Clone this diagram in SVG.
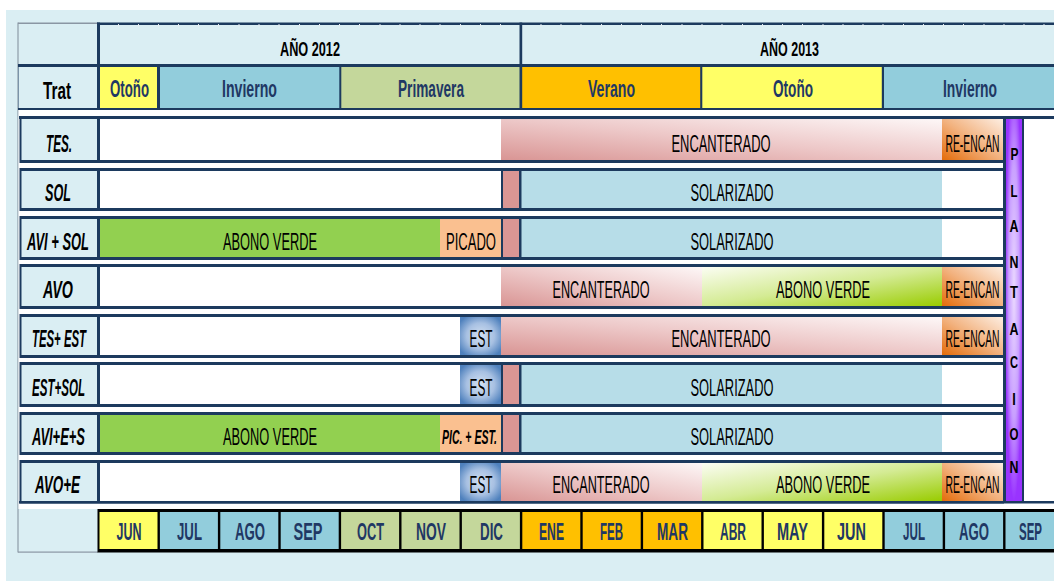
<svg xmlns="http://www.w3.org/2000/svg" width="1054" height="581" viewBox="0 0 1054 581">
<defs>
<style>
text{font-family:"Liberation Sans",Arial,sans-serif;text-anchor:middle}
.yr{font-size:20px;font-weight:bold;fill:#000}
.tr{font-size:23px;font-weight:bold;fill:#000}
.sea{font-size:23px;font-weight:bold;fill:#1f3864}
.mon{font-size:23px;font-weight:bold;fill:#1f3864}
.rl{font-size:23px;font-weight:bold;font-style:italic;fill:#000}
.cl{font-size:23px;fill:#000}
.ci{font-size:20px;font-weight:bold;font-style:italic;fill:#000}
.pl{font-size:17px;font-weight:bold;fill:#000}
.nv{fill:#1c3a5e}
.lb{fill:#daeef3}
.wh{fill:#ffffff}
.yel{fill:#ffff66}
.blu{fill:#92cddc}
.grn{fill:#c4d79b}
.org{fill:#ffc000}
.av{fill:#92d050}
.pic{fill:#fac090}
.pk{fill:#da9694}
.sol{fill:#b7dde8}
.enc{fill:url(#gEnc)}
.abo{fill:url(#gAbo)}
.re{fill:url(#gRe)}
.est{fill:url(#gEst)}
</style>
<linearGradient id="gEnc" x1="0" y1="1" x2="1" y2="0">
<stop offset="0" stop-color="#d99594"/><stop offset="0.5" stop-color="#edc8c8"/><stop offset="1" stop-color="#fdf7f7"/>
</linearGradient>
<linearGradient id="gAbo" x1="0" y1="0" x2="1" y2="1">
<stop offset="0" stop-color="#fbfdf3"/><stop offset="0.5" stop-color="#d4eb94"/><stop offset="1" stop-color="#99cc00"/>
</linearGradient>
<linearGradient id="gRe" x1="0" y1="1" x2="1" y2="0">
<stop offset="0" stop-color="#e46c0a"/><stop offset="0.5" stop-color="#f2b27f"/><stop offset="1" stop-color="#fdeee2"/>
</linearGradient>
<radialGradient id="gEst" cx="0.5" cy="0.5" r="0.62">
<stop offset="0" stop-color="#d3e0f1"/><stop offset="0.55" stop-color="#a7c0e2"/><stop offset="1" stop-color="#4f81bd"/>
</radialGradient>
<radialGradient id="gPl" cx="0.5" cy="0.45" r="0.55">
<stop offset="0" stop-color="#ead8ff"/><stop offset="0.6" stop-color="#c9a0ff"/><stop offset="1" stop-color="#9933ff"/>
</radialGradient>
</defs>

<rect x="6" y="10" width="1048" height="571" fill="#daeef3"/>

<g id="header">
<rect x="17.5" y="22.5" width="1" height="530" fill="#7f8c99"/>
<rect x="18" y="22.5" width="80" height="1.5" fill="#8a96a3"/>
<rect class="nv" x="97" y="22.5" width="957" height="2.5"/>
<path d="M118.5 24v3M138.5 24v3M158.5 24v3M178.5 24v3M198.5 24v3M218.5 24v3M239 24v3M259 24v3M279 24v3M299.5 24v3M319.5 24v3M339.5 24v3M359.5 24v3M380 24v3M400 24v3M420 24v3M440 24v3M460.5 24v3M480.5 24v3M500.5 24v3M541 24v3M561 24v3M581 24v3M601.5 24v3M621.5 24v3M641.5 24v3M661.5 24v3M682 24v3M702 24v3M722 24v3M742.5 24v3M762.5 24v3M782.5 24v3M802.5 24v3M823 24v3M843 24v3M863 24v3M883 24v3M903.5 24v3M923.5 24v3M943.5 24v3M963.5 24v3M984 24v3M1004 24v3M1024 24v3M1044 24v3" stroke="#e6edf2" stroke-width="1" fill="none"/>
<rect class="nv" x="97" y="22.5" width="3" height="88"/>
<rect class="nv" x="519.5" y="22.5" width="2.7" height="44"/>
<text class="yr" x="310" y="56" textLength="60" lengthAdjust="spacingAndGlyphs">AÑO 2012</text>
<text class="yr" x="789.5" y="56" textLength="59" lengthAdjust="spacingAndGlyphs">AÑO 2013</text>
<rect class="nv" x="18" y="64" width="1036" height="46"/>
<rect class="lb" x="18.5" y="67" width="78.5" height="41"/>
<rect class="yel" x="100" y="67" width="57" height="41"/>
<rect class="blu" x="160" y="67" width="179.3" height="41"/>
<rect class="grn" x="341.3" y="67" width="178.2" height="41"/>
<rect class="org" x="522.2" y="67" width="178" height="41"/>
<rect class="yel" x="702.3" y="67" width="179.5" height="41"/>
<rect class="blu" x="884" y="67" width="170" height="41"/>
<text class="tr" x="57" y="99" textLength="28" lengthAdjust="spacingAndGlyphs">Trat</text>
<text class="sea" x="129.5" y="97" textLength="39" lengthAdjust="spacingAndGlyphs">Otoño</text>
<text class="sea" x="249.5" y="97" textLength="55" lengthAdjust="spacingAndGlyphs">Invierno</text>
<text class="sea" x="431" y="97" textLength="66" lengthAdjust="spacingAndGlyphs">Primavera</text>
<text class="sea" x="611.5" y="97" textLength="47" lengthAdjust="spacingAndGlyphs">Verano</text>
<text class="sea" x="793" y="97" textLength="40" lengthAdjust="spacingAndGlyphs">Otoño</text>
<text class="sea" x="970" y="97" textLength="54" lengthAdjust="spacingAndGlyphs">Invierno</text>
</g>

<rect class="wh" x="18.5" y="110" width="1035.5" height="399"/>
<rect class="nv" x="19" y="116" width="1035" height="3"/>
<rect class="nv" x="19" y="501" width="1035" height="2.5"/>

<g id="row-tes">
<rect class="nv" x="19.5" y="116" width="984.5" height="47"/>
<rect class="lb" x="21.5" y="119" width="75.5" height="41"/>
<rect class="wh" x="100" y="119" width="401" height="41"/>
<rect class="enc" x="501" y="119" width="441" height="41"/>
<rect class="re" x="942" y="119" width="61" height="41"/>
<text class="rl" x="59" y="152" textLength="26" lengthAdjust="spacingAndGlyphs">TES.</text>
<text class="cl" x="721" y="152" textLength="99" lengthAdjust="spacingAndGlyphs">ENCANTERADO</text>
<text class="cl" x="972.5" y="152" textLength="54" lengthAdjust="spacingAndGlyphs">RE-ENCAN</text>
</g>

<g id="row-sol">
<rect class="nv" x="19.5" y="168" width="984.5" height="43"/>
<rect class="lb" x="21.5" y="171" width="75.5" height="37"/>
<rect class="wh" x="100" y="171" width="401" height="37"/>
<rect class="pk" x="503" y="171" width="16" height="37"/>
<rect class="sol" x="521.5" y="171" width="420.5" height="37"/>
<rect class="wh" x="942" y="171" width="61" height="37"/>
<text class="rl" x="58" y="201" textLength="26" lengthAdjust="spacingAndGlyphs">SOL</text>
<text class="cl" x="732" y="201" textLength="83" lengthAdjust="spacingAndGlyphs">SOLARIZADO</text>
</g>

<g id="row-avi-sol">
<rect class="nv" x="19.5" y="216" width="984.5" height="44"/>
<rect class="lb" x="21.5" y="219" width="75.5" height="38"/>
<rect class="av" x="100" y="219" width="340" height="38"/>
<rect class="pic" x="440" y="219" width="61" height="38"/>
<rect class="pk" x="503" y="219" width="16" height="38"/>
<rect class="sol" x="521.5" y="219" width="420.5" height="38"/>
<rect class="wh" x="942" y="219" width="61" height="38"/>
<text class="rl" x="58" y="249.5" textLength="62" lengthAdjust="spacingAndGlyphs">AVI + SOL</text>
<text class="cl" x="270" y="249.5" textLength="94" lengthAdjust="spacingAndGlyphs">ABONO VERDE</text>
<text class="cl" x="471" y="249.5" textLength="50" lengthAdjust="spacingAndGlyphs">PICADO</text>
<text class="cl" x="732" y="249.5" textLength="83" lengthAdjust="spacingAndGlyphs">SOLARIZADO</text>
</g>

<g id="row-avo">
<rect class="nv" x="19.5" y="264" width="984.5" height="45"/>
<rect class="lb" x="21.5" y="267" width="75.5" height="39"/>
<rect class="wh" x="100" y="267" width="401" height="39"/>
<rect class="enc" x="501" y="267" width="201" height="39"/>
<rect class="abo" x="702" y="267" width="240" height="39"/>
<rect class="re" x="942" y="267" width="61" height="39"/>
<text class="rl" x="58" y="297.5" textLength="30" lengthAdjust="spacingAndGlyphs">AVO</text>
<text class="cl" x="601" y="297.5" textLength="97" lengthAdjust="spacingAndGlyphs">ENCANTERADO</text>
<text class="cl" x="823" y="297.5" textLength="94" lengthAdjust="spacingAndGlyphs">ABONO VERDE</text>
<text class="cl" x="972.5" y="297.5" textLength="54" lengthAdjust="spacingAndGlyphs">RE-ENCAN</text>
</g>

<g id="row-tes-est">
<rect class="nv" x="19.5" y="314" width="984.5" height="44"/>
<rect class="lb" x="21.5" y="317" width="75.5" height="38"/>
<rect class="wh" x="100" y="317" width="360" height="38"/>
<rect class="est" x="460" y="317" width="41" height="38"/>
<rect class="enc" x="501" y="317" width="441" height="38"/>
<rect class="re" x="942" y="317" width="61" height="38"/>
<text class="rl" x="59" y="347" textLength="54" lengthAdjust="spacingAndGlyphs">TES+ EST</text>
<text class="cl" x="481" y="347" textLength="23" lengthAdjust="spacingAndGlyphs">EST</text>
<text class="cl" x="721" y="347" textLength="99" lengthAdjust="spacingAndGlyphs">ENCANTERADO</text>
<text class="cl" x="972.5" y="347" textLength="54" lengthAdjust="spacingAndGlyphs">RE-ENCAN</text>
</g>

<g id="row-est-sol">
<rect class="nv" x="19.5" y="362" width="984.5" height="45"/>
<rect class="lb" x="21.5" y="365" width="75.5" height="39"/>
<rect class="wh" x="100" y="365" width="360" height="39"/>
<rect class="est" x="460" y="365" width="41" height="39"/>
<rect class="pk" x="503" y="365" width="16" height="39"/>
<rect class="sol" x="521.5" y="365" width="420.5" height="39"/>
<rect class="wh" x="942" y="365" width="61" height="39"/>
<text class="rl" x="58.5" y="396" textLength="53" lengthAdjust="spacingAndGlyphs">EST+SOL</text>
<text class="cl" x="481" y="396" textLength="23" lengthAdjust="spacingAndGlyphs">EST</text>
<text class="cl" x="732" y="396" textLength="83" lengthAdjust="spacingAndGlyphs">SOLARIZADO</text>
</g>

<g id="row-avi-e-s">
<rect class="nv" x="19.5" y="412" width="984.5" height="43"/>
<rect class="lb" x="21.5" y="415" width="75.5" height="37"/>
<rect class="av" x="100" y="415" width="340" height="37"/>
<rect class="pic" x="440" y="415" width="61" height="37"/>
<rect class="pk" x="503" y="415" width="16" height="37"/>
<rect class="sol" x="521.5" y="415" width="420.5" height="37"/>
<rect class="wh" x="942" y="415" width="61" height="37"/>
<text class="rl" x="58.5" y="445" textLength="53" lengthAdjust="spacingAndGlyphs">AVI+E+S</text>
<text class="cl" x="270" y="445" textLength="94" lengthAdjust="spacingAndGlyphs">ABONO VERDE</text>
<text class="ci" x="469.5" y="444" textLength="55" lengthAdjust="spacingAndGlyphs">PIC. + EST.</text>
<text class="cl" x="732" y="445" textLength="83" lengthAdjust="spacingAndGlyphs">SOLARIZADO</text>
</g>

<g id="row-avo-e">
<rect class="nv" x="19.5" y="460" width="984.5" height="43.5"/>
<rect class="lb" x="21.5" y="463" width="75.5" height="38"/>
<rect class="wh" x="100" y="463" width="360" height="38"/>
<rect class="est" x="460" y="463" width="41" height="38"/>
<rect class="enc" x="501" y="463" width="201" height="38"/>
<rect class="abo" x="702" y="463" width="240" height="38"/>
<rect class="re" x="942" y="463" width="61" height="38"/>
<text class="rl" x="57.5" y="493" textLength="45" lengthAdjust="spacingAndGlyphs">AVO+E</text>
<text class="cl" x="481" y="493" textLength="23" lengthAdjust="spacingAndGlyphs">EST</text>
<text class="cl" x="601" y="493" textLength="97" lengthAdjust="spacingAndGlyphs">ENCANTERADO</text>
<text class="cl" x="823" y="493" textLength="94" lengthAdjust="spacingAndGlyphs">ABONO VERDE</text>
<text class="cl" x="972.5" y="493" textLength="54" lengthAdjust="spacingAndGlyphs">RE-ENCAN</text>
</g>

<g id="plantacion">
<rect class="nv" x="1003" y="117" width="21" height="386"/>
<rect x="1006" y="119" width="16" height="382" fill="url(#gPl)"/>
<text class="pl" x="1014.5" y="160" textLength="8" lengthAdjust="spacingAndGlyphs">P</text>
<text class="pl" x="1014" y="197" textLength="7" lengthAdjust="spacingAndGlyphs">L</text>
<text class="pl" x="1014" y="232" textLength="9" lengthAdjust="spacingAndGlyphs">A</text>
<text class="pl" x="1014" y="268" textLength="9" lengthAdjust="spacingAndGlyphs">N</text>
<text class="pl" x="1014" y="298" textLength="8" lengthAdjust="spacingAndGlyphs">T</text>
<text class="pl" x="1014" y="335" textLength="9" lengthAdjust="spacingAndGlyphs">A</text>
<text class="pl" x="1014" y="368" textLength="8" lengthAdjust="spacingAndGlyphs">C</text>
<text class="pl" x="1014" y="405" textLength="3.5" lengthAdjust="spacingAndGlyphs">I</text>
<text class="pl" x="1014" y="440" textLength="9" lengthAdjust="spacingAndGlyphs">O</text>
<text class="pl" x="1014" y="473" textLength="9" lengthAdjust="spacingAndGlyphs">N</text>
</g>

<g id="months">
<rect x="18" y="551.5" width="80" height="1.2" fill="#8a96a3"/>
<rect x="97.5" y="509" width="956.5" height="43.5" fill="#000"/>
<rect class="yel" x="99.5" y="512" width="58" height="37"/>
<rect class="blu" x="159.9" y="512" width="58" height="37"/>
<rect class="blu" x="220.3" y="512" width="58" height="37"/>
<rect class="blu" x="280.7" y="512" width="58" height="37"/>
<rect class="grn" x="341.1" y="512" width="58" height="37"/>
<rect class="grn" x="401.5" y="512" width="58" height="37"/>
<rect class="grn" x="461.9" y="512" width="58" height="37"/>
<rect class="org" x="522.3" y="512" width="58" height="37"/>
<rect class="org" x="582.7" y="512" width="58" height="37"/>
<rect class="org" x="643.1" y="512" width="58" height="37"/>
<rect class="yel" x="703.5" y="512" width="58" height="37"/>
<rect class="yel" x="763.9" y="512" width="58" height="37"/>
<rect class="yel" x="824.3" y="512" width="58" height="37"/>
<rect class="blu" x="884.7" y="512" width="58" height="37"/>
<rect class="blu" x="945.1" y="512" width="58" height="37"/>
<rect class="blu" x="1005.5" y="512" width="48.5" height="37"/>
<text class="mon" x="129" y="540" textLength="25" lengthAdjust="spacingAndGlyphs">JUN</text>
<text class="mon" x="189.5" y="540" textLength="25" lengthAdjust="spacingAndGlyphs">JUL</text>
<text class="mon" x="250" y="540" textLength="30" lengthAdjust="spacingAndGlyphs">AGO</text>
<text class="mon" x="308" y="540" textLength="29" lengthAdjust="spacingAndGlyphs">SEP</text>
<text class="mon" x="370.5" y="540" textLength="27" lengthAdjust="spacingAndGlyphs">OCT</text>
<text class="mon" x="431" y="540" textLength="30" lengthAdjust="spacingAndGlyphs">NOV</text>
<text class="mon" x="491.5" y="540" textLength="23" lengthAdjust="spacingAndGlyphs">DIC</text>
<text class="mon" x="551.5" y="540" textLength="25" lengthAdjust="spacingAndGlyphs">ENE</text>
<text class="mon" x="611.5" y="540" textLength="23" lengthAdjust="spacingAndGlyphs">FEB</text>
<text class="mon" x="672.5" y="540" textLength="31" lengthAdjust="spacingAndGlyphs">MAR</text>
<text class="mon" x="733" y="540" textLength="26" lengthAdjust="spacingAndGlyphs">ABR</text>
<text class="mon" x="792.5" y="540" textLength="31" lengthAdjust="spacingAndGlyphs">MAY</text>
<text class="mon" x="851.5" y="540" textLength="29" lengthAdjust="spacingAndGlyphs">JUN</text>
<text class="mon" x="914" y="540" textLength="22" lengthAdjust="spacingAndGlyphs">JUL</text>
<text class="mon" x="974" y="540" textLength="30" lengthAdjust="spacingAndGlyphs">AGO</text>
<text class="mon" x="1030.5" y="540" textLength="23" lengthAdjust="spacingAndGlyphs">SEP</text>
</g>
</svg>
